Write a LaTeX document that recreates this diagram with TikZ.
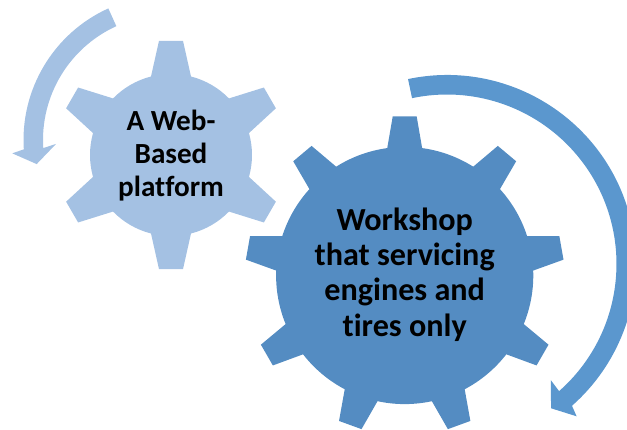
\documentclass[tikz,border=0pt]{standalone}
\usepackage{fontspec}
\setmainfont{Carlito}[Ligatures=NoCommon]
\definecolor{lightgear}{HTML}{A4C1E3}
\definecolor{darkgear}{HTML}{548CC2}
\definecolor{darkarrow}{HTML}{5B97CE}
\newcommand{\gearfill}[6]{%
  \fill[#1] (90-#5:#3)
    \foreach \k [evaluate=\k as \a using 90+(\k-1)*360/#2] in {1,...,#2} {
      -- (\a-#5:#3) -- (\a-#6:#4) -- (\a+#6:#4) -- (\a+#5:#3)
      arc[start angle=\a+#5, delta angle=360/#2-2*#5, radius=#3]
    } -- cycle;}
\tikzset{
  gearlabel/.style={text=black, align=center, inner sep=0pt},
  smalllabel/.style={gearlabel, font=\fontsize{16.6}{18.8}\selectfont\bfseries},
  biglabel/.style={gearlabel, font=\fontsize{18.3}{20.2}\selectfont\bfseries},
}

\begin{document}
\begin{tikzpicture}[x=0.02cm,y=0.02cm]
      \clip (0,0) rectangle (627,430);

      \begin{scope}[shift={(171,275)}]
        \gearfill{lightgear}{6}{81}{114.8}{14.3}{6}
      \end{scope}
      \node[smalllabel] (platform) at (171,274) {A Web-\\Based\\platform};

      \begin{scope}[shift={(404.7,154.5)}]
        \gearfill{darkgear}{9}{128.6}{159.6}{7.8}{4.3}
      \end{scope}
      \node[biglabel] (workshop) at (404.7,155.5) {Workshop\\that servicing\\engines and\\tires only};

      % arrow round the small gear
      \begin{scope}[shift={(168,290)}]
        \fill[lightgear] (114.4:144.5) arc[start angle=114.4, end angle=183.7, radius=144.5]
          -- (184.9:156.3) -- (190.4:133.5) -- (182:112) -- (183.7:125)
          arc[start angle=183.7, end angle=114.4, radius=125] -- cycle;
      \end{scope}

      % arrow round the big gear
      \begin{scope}[shift={(447,166)}]
        \fill[darkarrow] (101.9:189) arc[start angle=101.9, end angle=-48.6, radius=189]
          -- (-49.6:200) -- (-54.2:177.9) -- (-48.2:155.8) -- (-48.6:169.5)
          arc[start angle=-48.6, end angle=101.9, radius=169.5] -- cycle;
      \end{scope}
\end{tikzpicture}
\end{document}
